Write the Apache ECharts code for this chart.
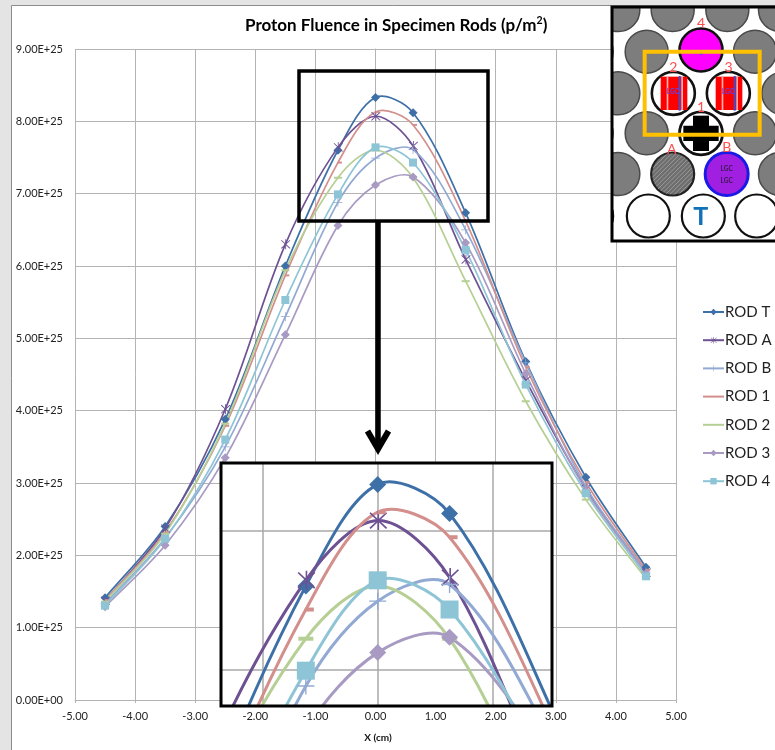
<!DOCTYPE html>
<html>
<head>
<meta charset="utf-8">
<style>html,body{margin:0;padding:0;background:#e4e4e4}#c{width:775px;height:750px}</style>
<script src="https://cdn.jsdelivr.net/npm/echarts@6/dist/echarts.min.js"></script>
</head>
<body>
<div id="c"></div>
<script>
// Values in units of 1E+25 p/m^2
const xCm   = [-4.5, -3.5, -2.5, -1.5, -0.625, 0, 0.625, 1.5, 2.5, 3.5, 4.5];
const rodT  = [1.415, 2.40, 3.88, 6.00, 7.60, 8.33, 8.12, 6.735, 4.68, 3.08, 1.835];
const rodA  = [1.37, 2.37, 4.02, 6.30, 7.64, 8.07, 7.66, 6.09, 4.42, 2.92, 1.76];
const rodB  = [1.33, 2.24, 3.50, 5.30, 6.88, 7.49, 7.61, 6.50, 4.66, 2.95, 1.77];
const rod1  = [1.38, 2.32, 3.79, 5.87, 7.43, 8.13, 7.95, 6.62, 4.60, 3.01, 1.80];
const rod2  = [1.36, 2.30, 3.82, 5.94, 7.22, 7.60, 7.22, 5.79, 4.13, 2.77, 1.68];
const rod3  = [1.29, 2.14, 3.35, 5.05, 6.56, 7.12, 7.23, 6.32, 4.51, 2.90, 1.75];
const rod4  = [1.305, 2.23, 3.60, 5.53, 6.99, 7.64, 7.43, 6.22, 4.36, 2.86, 1.71];
const seriesNames = ['ROD T', 'ROD A', 'ROD B', 'ROD 1', 'ROD 2', 'ROD 3', 'ROD 4'];
const seriesValues = [rodT, rodA, rodB, rod1, rod2, rod3, rod4];

const FONT = 'Lato';
const PLUS = 'path://M0,4.6H10V5.4H0ZM4.6,0H5.4V10H4.6Z';
const STAR = 'path://M0,4.6H0.01V5.4H0ZM4.6,0H5.4V10H4.6ZM0.6,1.2L1.2,0.6L9.4,8.8L8.8,9.4ZM8.8,0.6L9.4,1.2L1.2,9.4L0.6,8.8Z';
const styles = [
  {color:'#3e70a8', symbol:'diamond', size:9,  big:17},
  {color:'#6d5192', symbol:STAR,      size:10, big:19},
  {color:'#92a9d3', symbol:PLUS,      size:9,  big:17},
  {color:'#d38f8c', symbol:'rect',    size:[4,2], big:[8,4], off:[2,0], bigOff:[4,0], noLegendMark:true},
  {color:'#b6cf94', symbol:'rect',    size:[8,2], big:[15,4], noLegendMark:true},
  {color:'#a89ac2', symbol:'diamond', size:9,  big:17},
  {color:'#8dc4d6', symbol:'rect',    size:8,  big:18}
];

// One smoothed segment per data point (Excel-style cubic), placed through the axes' scale with api.coord.
function curveRenderer(pts, color, width){
  return function(params, api){
    const i = params.dataIndex;
    if (i >= pts.length - 1) return null;
    const c = k => api.coord(pts[Math.max(0, Math.min(pts.length - 1, k))]);
    const p0 = c(i - 1), p1 = c(i), p2 = c(i + 1), p3 = c(i + 2);
    const d = (a, b) => Math.hypot(a[0] - b[0], a[1] - b[1]);
    const d01 = d(p0, p1), d12 = d(p1, p2), d23 = d(p2, p3);
    const k1 = d12 / (d01 + d12) / 3, k2 = d12 / (d12 + d23) / 3;
    return {
      type:'bezierCurve', silent:true,
      shape:{
        x1:p1[0], y1:p1[1], x2:p2[0], y2:p2[1],
        cpx1:p1[0] + (p2[0] - p0[0]) * k1, cpy1:p1[1] + (p2[1] - p0[1]) * k1,
        cpx2:p2[0] - (p3[0] - p1[0]) * k2, cpy2:p2[1] - (p3[1] - p1[1]) * k2
      },
      style:{fill:null, stroke:color, lineWidth:width, lineCap:'round'}
    };
  };
}

const series = [];
function addRods(axisIndex, z, width, sizeKey, offKey){
  seriesNames.forEach((name, i) => {
    const s = styles[i];
    const pts = xCm.map((x, k) => [x, seriesValues[i][k]]);
    series.push({
      type:'custom', name:name + ' curve', xAxisIndex:axisIndex, yAxisIndex:axisIndex,
      data:pts, z, clip:true, silent:true, encode:{x:0, y:1},
      renderItem:curveRenderer(pts, s.color, width)
    });
    series.push({
      type:'line', name, xAxisIndex:axisIndex, yAxisIndex:axisIndex, data:pts, z,
      symbol:s.symbol, symbolSize:s[sizeKey], symbolOffset:s[offKey] || [0,0],
      showSymbol:true, showAllSymbol:true, clip:true,
      lineStyle:{color:s.color, width:width, opacity:0}, itemStyle:{color:s.color}, silent:true
    });
  });
}
addRods(0, 2, 1.7, 'size', 'off');
addRods(1, 5, 3, 'big', 'bigOff');

// Core-map picture in the top right corner (schematic, real text for its labels)
function zx(v){return 600+v/3;} function zy(v){return v/3;}
const R = 21.5;
function disc(x,y,fill,stroke,w,r){return {type:'circle',shape:{cx:zx(x),cy:zy(y),r:r||R},style:{fill:fill,stroke:stroke,lineWidth:w}};}
function rc(x0,y0,x1,y1,fill){return {type:'rect',shape:{x:zx(x0),y:zy(y0),width:(x1-x0)/3,height:(y1-y0)/3},style:{fill:fill}};}
function txt(x,y,t,fill,size,weight){return {type:'text',x:zx(x),y:zy(y),style:{text:t,fill:fill,fontSize:size,fontFamily:FONT,fontWeight:weight||'normal',align:'center',verticalAlign:'middle'}};}
function fuelRod(cx,cy){
  return [
    disc(cx,cy,'#fff','#111',2.6),
    rc(cx-38,cy-50,cx+42,cy+50,'#ff0000'),
    rc(cx-20,cy-50,cx-15,cy+50,'#ffb0b0'),
    rc(cx+24,cy-50,cx+29,cy+50,'#ffb0b0'),
    rc(cx+16,cy-52,cx+22,cy+52,'#3a4fd0'),
    txt(cx,cy-5,'LGO','#6a3fe0',6.5,'bold')
  ];
}
function picture(){
  const G='#7d7d7d', S='#4a4a4a';
  const kids=[{type:'rect',shape:{x:612,y:7,width:165,height:234},style:{fill:'#fff'}}];
  [[55,30],[218,30],[382,30],[540,30],[-25,155],[140,155],[465,155],[55,280],[550,280],[-25,400],[140,400],[465,400],[55,522],[540,522]]
    .forEach(p=>kids.push(disc(p[0],p[1],G,S,1.5)));
  kids.push(disc(303,150,'#ff00ff','#111',2.6));
  kids.push(disc(303,160,'#3a4fd0',null,0,1.5));
  kids.push(...fuelRod(220,280),...fuelRod(385,280));
  kids.push(disc(303,400,'#fff','#111',2.8));
  kids.push(rc(279,347,327,453,'#000'),rc(250,377,356,423,'#000'));
  const hatch=[];
  for(let k=-90;k<=90;k+=13){hatch.push({type:'line',shape:{x1:zx(218+k-70),y1:zy(522+70),x2:zx(218+k+70),y2:zy(522-70)},style:{stroke:'#9a9a9a',lineWidth:1}});}
  kids.push(disc(218,522,'#6e6e6e','#222',2.2));
  kids.push({type:'group',clipPath:{type:'circle',shape:{cx:zx(218),cy:zy(522),r:R-1}},children:hatch});
  kids.push(disc(380,522,'#a01fe0','#1a1ae6',3));
  kids.push(txt(380,508,'LGC','#3a1a50',6.5,'bold'),txt(380,544,'LGC','#3a1a50',6.5,'bold'));
  [[-25,648],[145,648],[310,648],[470,648]].forEach(p=>kids.push(disc(p[0],p[1],'#fff','#111',2.2)));
  kids.push(txt(302,650,'T','#0f72b8',25,'bold'));
  [[303,70,'4'],[220,202,'2'],[386,202,'3'],[303,322,'1'],[215,447,'A'],[380,443,'B']]
    .forEach(p=>kids.push(txt(p[0],p[1],p[2],'#ff4d4d',14)));
  kids.push({type:'rect',shape:{x:zx(134),y:zy(155),width:115,height:83},style:{fill:null,stroke:'#ffc000',lineWidth:4}});
  return {type:'group',clipPath:{type:'rect',shape:{x:612,y:7,width:163,height:234}},children:kids};
}
series.push({type:'custom',coordinateSystem:'none',name:'picture',data:[0],z:10,silent:true,renderItem:()=>picture()});

const valueLabel = v => v === 0 ? '0.00E+00' : v.toFixed(2) + 'E+25';

const option = {
  animation:false,
  backgroundColor:'#e4e4e4',
  textStyle:{fontFamily:FONT},
  title:{
    left:240, top:10,
    text:'{a|Proton Fluence in Specimen Rods (p/m}{s|2}{a|)}',
    textStyle:{rich:{
      a:{fontFamily:FONT,fontWeight:'bold',fontSize:17,color:'#000',lineHeight:22},
      s:{fontFamily:FONT,fontWeight:'bold',fontSize:10.5,color:'#000',verticalAlign:'top',lineHeight:18}
    }}
  },
  grid:[
    {left:75, top:49, width:601, height:651, containLabel:false},
    {left:221, top:463, width:331, height:243, containLabel:false, z:4}
  ],
  xAxis:[
    {type:'value', gridIndex:0, min:-5, max:5, interval:1, z:1,
     name:'X (cm)', nameLocation:'middle', nameGap:33,
     nameTextStyle:{fontFamily:FONT,fontWeight:'bold',fontSize:10,color:'#111',padding:[0,0,0,5]},
     axisLine:{onZero:false,lineStyle:{color:'#b4b4b4',width:1}},
     axisTick:{show:true,length:3,lineStyle:{color:'#b4b4b4'}},
     axisLabel:{color:'#222',fontSize:11,fontFamily:FONT,margin:11,formatter:v=>v.toFixed(2)},
     splitLine:{show:true,lineStyle:{color:'#b4b4b4',width:1}}},
    {type:'value', gridIndex:1, min:-1.363, max:1.516, z:4,
     axisLine:{show:false}, axisTick:{show:false,customValues:[-1,0,1]}, axisLabel:{show:false},
     splitLine:{show:true,lineStyle:{color:'#a8a8a8',width:1.5}}}
  ],
  yAxis:[
    {type:'value', gridIndex:0, min:0, max:9, interval:1, z:1,
     axisLine:{show:true,lineStyle:{color:'#b4b4b4',width:1}},
     axisTick:{show:false},
     axisLabel:{color:'#222',fontSize:11,fontFamily:FONT,margin:12,formatter:valueLabel},
     splitLine:{show:true,lineStyle:{color:'#b4b4b4',width:1}}},
    {type:'value', gridIndex:1, min:6.736, max:8.484, z:4,
     axisLine:{show:false}, axisTick:{show:false,customValues:[7,8]}, axisLabel:{show:false},
     splitLine:{show:true,lineStyle:{color:'#a8a8a8',width:1.5}}}
  ],
  legend:{
    show:true, orient:'vertical', left:702, top:303, padding:0,
    data:seriesNames.map((name,i)=>({
      name,
      lineStyle:{color:styles[i].color,width:2,opacity:1},
      itemStyle:styles[i].noLegendMark?{opacity:0}:{opacity:1}
    })),
    itemWidth:21, itemHeight:8, itemGap:10.2, selectedMode:false,
    textStyle:{fontFamily:FONT,fontSize:15,color:'#222',padding:[0,0,0,-4],lineHeight:18}
  },
  graphic:{elements:[
    {type:'rect',z:-1,shape:{x:11.5,y:5.5,width:800,height:800},style:{fill:'#fff',stroke:'#8c8c8c',lineWidth:1}},
    {type:'rect',z:3,shape:{x:221,y:463,width:331,height:243},style:{fill:'#fff'}},
    {type:'rect',z:6,shape:{x:221,y:463,width:331,height:243},style:{fill:null,stroke:'#000',lineWidth:3}},
    {type:'rect',z:6,shape:{x:299,y:71,width:189,height:150},style:{fill:null,stroke:'#000',lineWidth:3.5}},
    {type:'line',z:6,shape:{x1:378,y1:222,x2:378,y2:449},style:{stroke:'#000',lineWidth:5.5}},
    {type:'polyline',z:6,shape:{points:[[367.5,431],[378,449],[388.5,431]]},style:{fill:null,stroke:'#000',lineWidth:6}},
    {type:'rect',z:11,shape:{x:612,y:7,width:175,height:234},style:{fill:null,stroke:'#000',lineWidth:3}}
  ]},
  series
};
echarts.init(document.getElementById('c')).setOption(option);
</script>
</body>
</html>
